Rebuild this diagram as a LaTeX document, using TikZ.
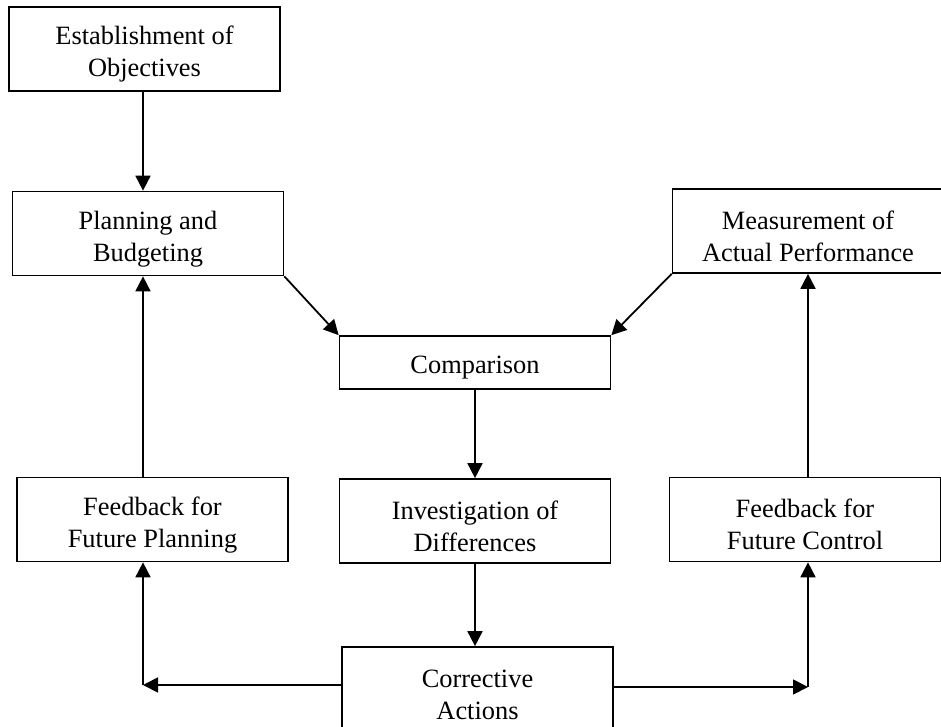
\documentclass[tikz,border=0pt]{standalone}
\usepackage{fontspec}
\setmainfont{Liberation Serif}
\usetikzlibrary{arrows.meta,positioning}

\begin{document}
\begin{tikzpicture}[x=0.5pt, y=-0.5pt, line width=0.9pt, >={Triangle[length=7.5pt, width=7.5pt]}, box/.style={rectangle, draw, line width=0.85pt, minimum width=135.5pt, minimum height=42pt, inner sep=0pt, align=center, font=\fontsize{13.2}{16}\selectfont}, block/.style={box, execute at begin node={\rule{0pt}{30.5pt}}}]

    \clip (0,0) rectangle (941,727);

    \node[block] (estab) at (144.5,49) {Establishment of\\Objectives};
    \node[block] (plan) at (148,233.5) {Planning and\\Budgeting};
    \node[block] (measure) at (808,231) {Measurement of\\Actual Performance};
    \node[box, minimum height=26.5pt, execute at begin node={\rule{0pt}{14pt}}] (compare) at (475,362.5) {Comparison};
    \node[block] (invest) at (475,521) {Investigation of\\Differences};
    \node[block] (fplan) at (152.5,519.5) {Feedback for\\Future Planning};
    \node[block] (fcontrol) at (805,519.5) {Feedback for\\Future Control};
    \node[block] (correct) at (477.5,689) {Corrective\\Actions};

    \coordinate (lcol) at (143,0);
    \coordinate (rcol) at (808,0);
    \coordinate (lcorner) at (143,685);
    \coordinate (rcorner) at (808,687);

    \draw[->] (estab.south -| lcol) -- (plan.north -| lcol);
    \draw[->] (plan.south east) -- (compare.north west);
    \draw[->] (measure.south west) -- (compare.north east);
    \draw[->] (compare) -- (invest);
    \draw[->] (invest) -- (invest |- correct.north);
    \draw[->] (correct.west |- lcorner) -- (lcorner);
    \draw[->] (correct.east |- rcorner) -- (rcorner);
    \draw[->] (lcorner) -- (fplan.south -| lcorner);
    \draw[->] (rcorner) -- (fcontrol.south -| rcorner);
    \draw[->] (fplan.north -| lcol) -- (plan.south -| lcol);
    \draw[->] (fcontrol.north -| rcol) -- (measure.south -| rcol);
  \end{tikzpicture}
\end{document}
